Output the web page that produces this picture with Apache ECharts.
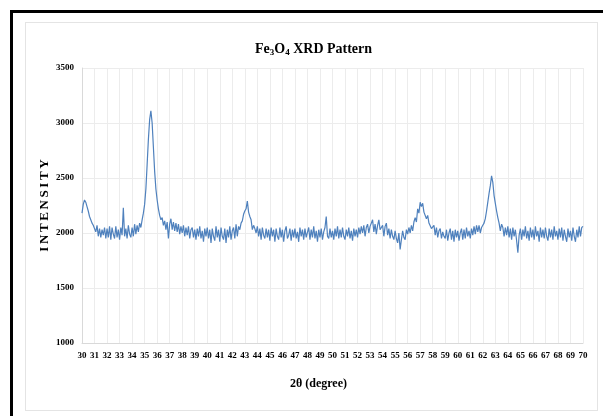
<!DOCTYPE html>
<html>
<head>
<meta charset="utf-8">
<script src="https://cdn.jsdelivr.net/npm/echarts@6/dist/echarts.min.js"></script>
<style>
  html, body { margin: 0; padding: 0; background: #fff; overflow: hidden; }
  #outer { position: absolute; left: 10px; top: 10px; width: 700px; height: 500px;
           border-left: 3px solid #000; border-top: 3px solid #000; }
  #frame { position: absolute; left: 25px; top: 22px; width: 571px; height: 387px;
           border: 1px solid #e4e4e4; }
  #chartDom { position: absolute; left: 0; top: 0; width: 603px; height: 416px; }
</style>
</head>
<body>
<div id="outer"></div>
<div id="frame"></div>
<div id="chartDom"></div>
<script>
// 2-theta from 30 to 70 degrees, 0.1 step
const xStart = 30
const xStep = 0.1
const intensity = [
  2180, 2260, 2300, 2280, 2240, 2200, 2150, 2120, 2090, 2070,
  2060, 2010, 2070, 1970, 2040, 1960, 2030, 1980, 2050, 1950,
  2040, 1960, 2060, 1940, 2050, 1990, 1950, 2060, 1960, 2030,
  1940, 2050, 1980, 2230, 1970, 2040, 1950, 2070, 1990, 1960,
  2050, 1970, 2080, 1990, 2070, 2010, 2090, 2050, 2120, 2180,
  2260, 2400, 2620, 2850, 3030, 3110, 3000, 2780, 2560, 2400,
  2300, 2220, 2160, 2120, 2140, 2070, 2110, 2030, 2100, 1950,
  2080, 2130, 2030, 2100, 2020, 2090, 2010, 2080, 1990, 2060,
  2000, 2070, 1970, 2050, 1980, 2060, 1950, 2030, 2050, 1960,
  2030, 1940, 2040, 1970, 2060, 1950, 2020, 1920, 2040, 1970,
  2050, 1950, 2030, 1910, 2040, 1970, 1930, 2060, 1960, 2030,
  1920, 2050, 1970, 1940, 2040, 1910, 2030, 1960, 2060, 1940,
  2020, 2050, 1950, 2080, 1970, 2060, 2030, 2090, 2110, 2170,
  2200, 2220, 2290, 2190, 2150, 2120, 2030, 2070, 2040, 2000,
  2060, 1970, 2040, 1940, 2050, 1980, 1950, 2040, 1960, 2030,
  1930, 2050, 1970, 2030, 1920, 2040, 1970, 1940, 2050, 1960,
  2030, 1920, 2020, 2060, 1950, 1980, 2040, 1930, 2030, 1960,
  2040, 1950, 2010, 1920, 2050, 1970, 2030, 1940, 2040, 1960,
  1970, 2050, 1940, 2030, 1960, 2060, 1950, 2020, 1920, 2030,
  1960, 2040, 1940, 2010, 2050, 2150, 1970, 1950, 2040, 1960,
  2020, 1940, 2040, 1970, 2060, 1950, 2030, 1960, 2050, 1970,
  1940, 2030, 1970, 2050, 1950, 2020, 1930, 2040, 1970, 2030,
  1960, 2050, 1990, 2060, 2000, 2070, 1970, 2050, 2080, 2000,
  2060, 2090, 2120, 2010, 2080, 1990, 2070, 2120, 2030, 2050,
  2070, 1970, 2060, 2090, 1980, 2040, 1950, 2030, 1970, 1940,
  2020, 1950, 1910, 2000, 1850, 1940, 2020, 1960, 1940, 2030,
  1990, 2050, 2000, 2070, 2020, 2100, 2140, 2100, 2220, 2180,
  2280, 2240, 2270, 2190, 2180, 2130, 2160, 2090, 2080, 2040,
  2050, 2070, 1980, 2050, 1960, 2020, 2040, 1950, 2010, 1970,
  1950, 2030, 1930, 2000, 2040, 1940, 2020, 1920, 2030, 1960,
  2020, 1930, 2000, 2040, 1940, 2030, 1950, 2050, 1970, 2020,
  1950, 2040, 1980, 2060, 1990, 2070, 2010, 2070, 2000, 2050,
  2070, 2090, 2130, 2200, 2280, 2360, 2430, 2520, 2460, 2340,
  2270, 2200, 2140, 2090, 2020, 2080, 2050, 1970, 2050, 1980,
  2060, 1960, 2040, 1940, 2050, 1970, 2030, 1930, 1820, 1980,
  2040, 1940, 2030, 1970, 2060, 1950, 2020, 1930, 2050, 1960,
  2030, 1940, 2060, 1970, 2020, 1920, 2050, 1960, 2030, 1950,
  2050, 1970, 1930, 2040, 1960, 2030, 1940, 2060, 1970, 2020,
  1940, 2040, 1960, 2050, 1930, 2030, 1970, 1920, 2040, 1960,
  2020, 1930, 2050, 1970, 1920, 2030, 1960, 2060, 1970, 2050,
  2060
]
const xTicks = { min: 30, max: 70, interval: 1 }
const yTicks = { min: 1000, max: 3500, interval: 500 }

const serif = '"Liberation Serif", "DejaVu Serif", serif'
const points = intensity.map((v, i) => [+(xStart + i * xStep).toFixed(1), v])

const option = {
  animation: false,
  title: {
    text: 'Fe{sub|3}O{sub|4} XRD Pattern',
    left: 250,
    top: 36,
    textStyle: {
      fontFamily: serif,
      fontSize: 14,
      fontWeight: 'bold',
      color: '#000',
      rich: {
        sub: { fontFamily: serif, fontSize: 9, fontWeight: 'bold', color: '#000', verticalAlign: 'bottom', padding: [7, 0, 0, 0] }
      }
    }
  },
  grid: { left: 82, right: 20, top: 68, bottom: 73 },
  xAxis: {
    type: 'value',
    min: xTicks.min,
    max: xTicks.max,
    interval: xTicks.interval,
    axisLine: { lineStyle: { color: '#d9d9d9' } },
    axisTick: { show: false },
    axisLabel: { fontFamily: serif, fontSize: 9, fontWeight: 'bold', color: '#000', margin: 8 },
    splitLine: { lineStyle: { color: '#ececec' } }
  },
  yAxis: {
    type: 'value',
    min: yTicks.min,
    max: yTicks.max,
    interval: yTicks.interval,
    name: 'I\u2009N\u2009T\u2009E\u2009N\u2009S\u2009I\u2009T\u2009Y',
    nameLocation: 'middle',
    nameGap: 31,
    nameMoveOverlap: false,
    nameTextStyle: { fontFamily: serif, fontSize: 13, fontWeight: 'bold', color: '#000' },
    axisLine: { show: true, lineStyle: { color: '#d9d9d9' } },
    axisTick: { show: false },
    axisLabel: { fontFamily: serif, fontSize: 9, fontWeight: 'bold', color: '#000', margin: 8, formatter: v => String(v) },
    splitLine: { lineStyle: { color: '#ececec' } }
  },
  graphic: [{
    type: 'text',
    left: 290,
    top: 378,
    style: { text: '2θ (degree)', font: 'bold 12px ' + serif, fill: '#000' }
  }],
  series: [{
    type: 'line',
    data: points,
    showSymbol: false,
    lineStyle: { color: '#4f81bd', width: 1.2 },
    itemStyle: { color: '#4f81bd' }
  }]
}

var myChart = echarts.init(document.getElementById('chartDom'))
myChart.setOption(option)
</script>
</body>
</html>
